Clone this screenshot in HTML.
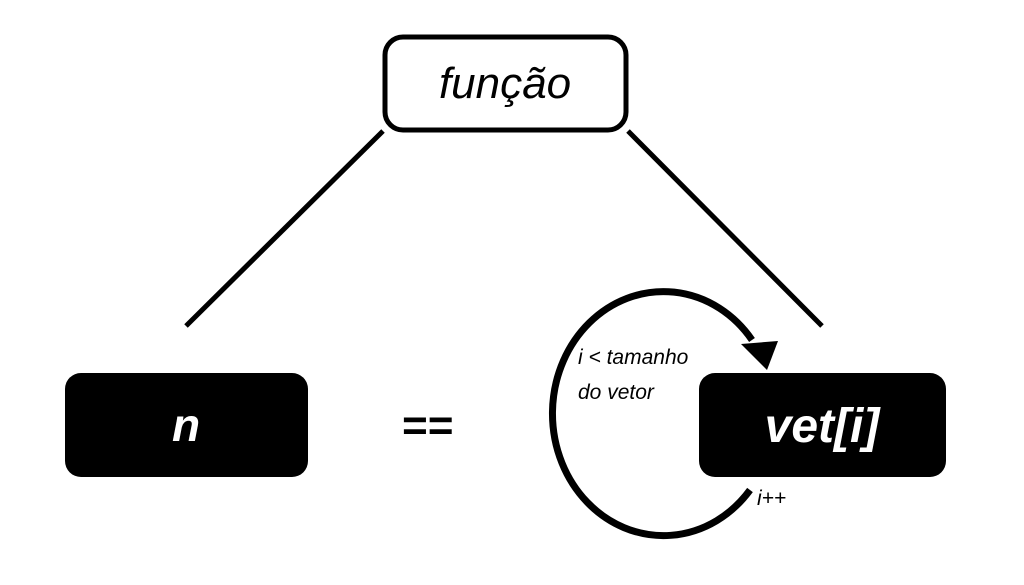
<!DOCTYPE html>
<html><head><style>
html,body{margin:0;padding:0;background:#fff;}
svg{display:block;}
text{font-family:"Liberation Sans",sans-serif;font-style:italic;}
</style></head><body>
<svg width="1024" height="585" viewBox="0 0 1024 585">
<rect x="385" y="37" width="241" height="93" rx="18" fill="#fff" stroke="#000" stroke-width="5"/>
<text x="505" y="98" font-size="44" text-anchor="middle" fill="#000">função</text>
<line x1="383" y1="131" x2="186" y2="326" stroke="#000" stroke-width="5"/>
<line x1="628" y1="131" x2="822" y2="326" stroke="#000" stroke-width="5"/>
<rect x="65" y="373" width="243" height="104" rx="16" fill="#000"/>
<text x="186" y="441" font-size="46" font-weight="bold" text-anchor="middle" fill="#fff">n</text>
<text x="427" y="440" font-size="44" font-weight="bold" text-anchor="middle" fill="#000">==</text>
<rect x="699" y="373" width="247" height="104" rx="16" fill="#000"/>
<text x="822" y="442" font-size="48" font-weight="bold" text-anchor="middle" fill="#fff">vet[i]</text>
<path d="M752 340 A111 122 0 1 0 750 490" fill="none" stroke="#000" stroke-width="7"/>
<polygon points="741,344 778,341 767,370" fill="#000"/>
<text x="578" y="364" font-size="21" fill="#000">i &lt; tamanho</text>
<text x="578" y="399" font-size="21" fill="#000">do vetor</text>
<text x="757" y="505" font-size="21" fill="#000">i++</text>
</svg>
</body></html>
